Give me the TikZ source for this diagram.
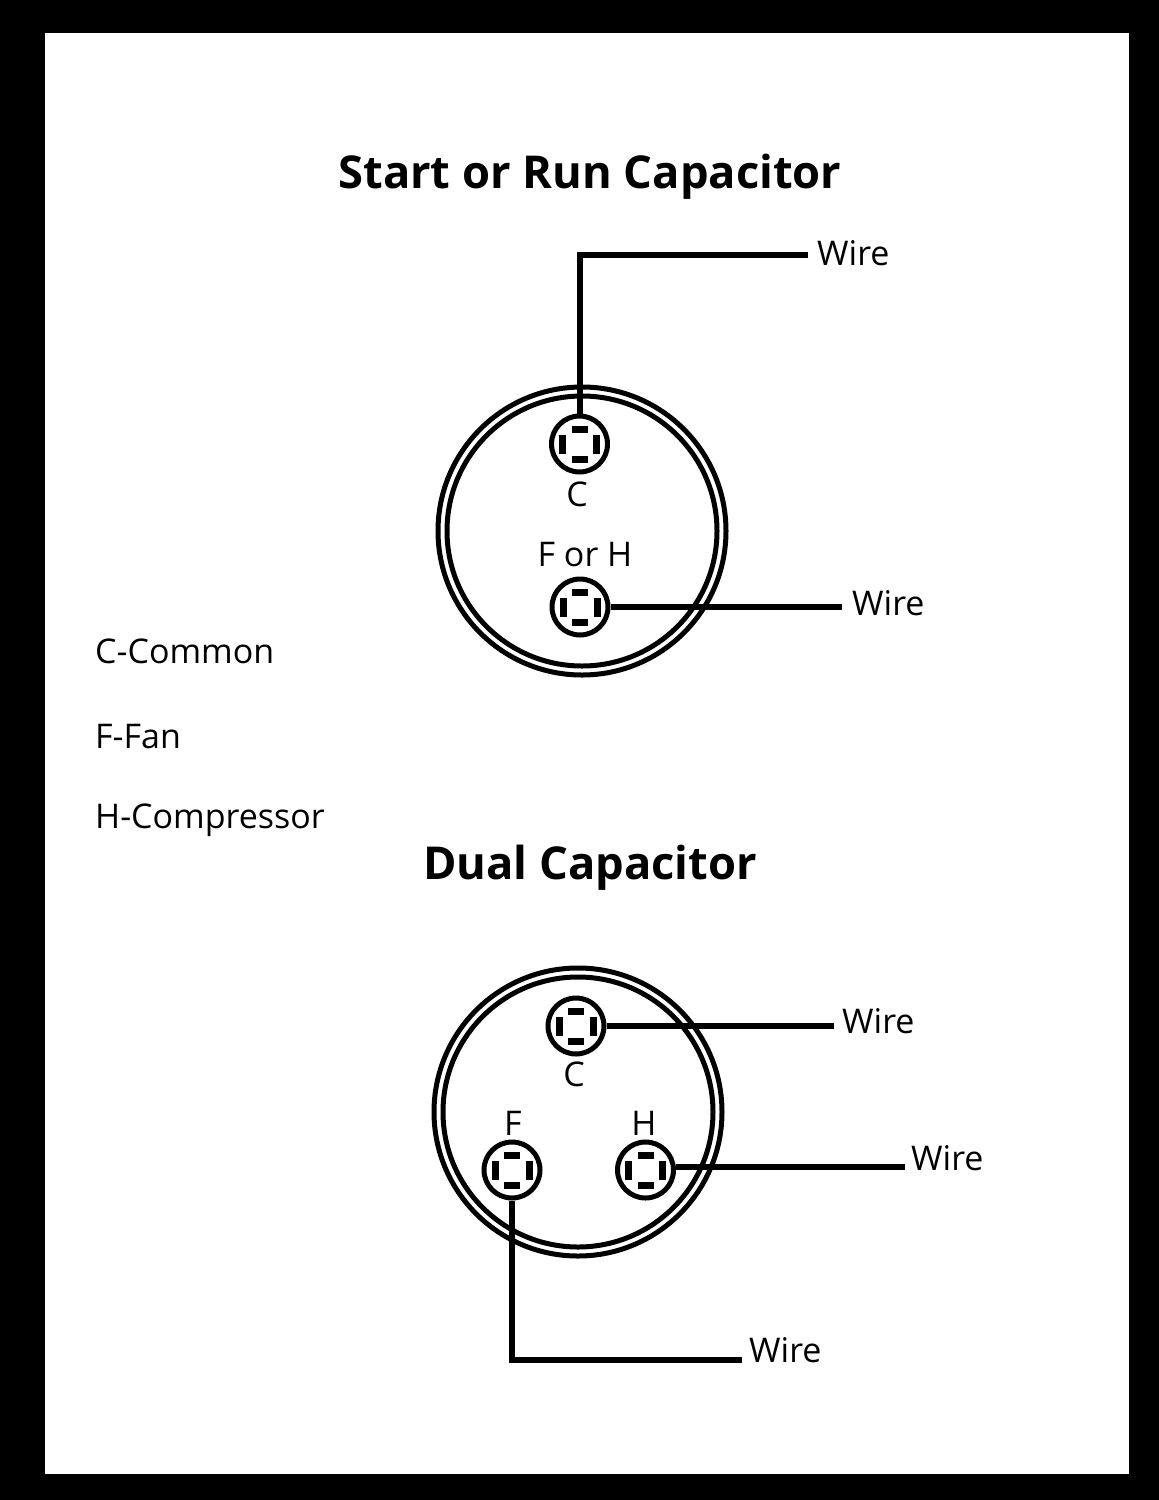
\documentclass[tikz,border=0pt]{standalone}
\usepackage{fontspec}
\setmainfont{Open Sans}
\usetikzlibrary{positioning}
\tikzset{
	title/.style={inner sep=0pt,font=\fontsize{45.3}{50}\selectfont\bfseries},
	lbl/.style={inner sep=0pt,font=\fontsize{34}{40}\selectfont},
	legend/.style={lbl,anchor=west},
	rim/.style={circle,draw,line width=5pt,inner sep=0pt},
	term/.style={circle,draw,fill=white,line width=5pt,minimum size=56pt,inner sep=0pt},
	tabh/.style={fill,minimum width=16pt,minimum height=7pt,inner sep=0pt},
	tabv/.style={fill,minimum width=7pt,minimum height=19pt,inner sep=0pt},
	wire/.style={line width=6pt}
}
\begin{document}
\begin{tikzpicture}[x=1pt,y=-1pt]
	% frame
	\fill (0,0) rectangle (1159,1500);
	\fill[white] (45,33) rectangle (1129,1474);
	\useasboundingbox (0,0) rectangle (1159,1500);

	\node (title0)		at (590,177) [title] {Start or Run Capacitor};
	\node (title1)		at (590,868) [title] {Dual Capacitor};

	\node (legendC)		at (95,651) [legend] {C-Common};
	\node (legendF)		at (95,737) [legend] {F-Fan};
	\node (legendH)		at (95,820) [legend] {H-Compressor};

	% capacitor cans
	\node (can0o)		at (582,531) [rim,minimum size=288pt] {};
	\node (can0i)		at (582,531) [rim,minimum size=270pt] {};
	\node (can1o)		at (578,1112) [rim,minimum size=288pt] {};
	\node (can1i)		at (578,1112) [rim,minimum size=270pt] {};

	% wire ends and their labels
	\coordinate (end0)	at (808,255);
	\coordinate (end1)	at (842,607);
	\coordinate (end2)	at (834,1026);
	\coordinate (end3)	at (905,1167);
	\coordinate (end4)	at (742,1360);
	\node (wire0)		at (817,253) [lbl,anchor=west] {Wire};
	\node (wire1)		at (852,603) [lbl,anchor=west] {Wire};
	\node (wire2)		at (842,1021) [lbl,anchor=west] {Wire};
	\node (wire3)		at (911,1158) [lbl,anchor=west] {Wire};
	\node (wire4)		at (749,1350) [lbl,anchor=west] {Wire};

	\node (term0)		at (579.5,444) [term] {};
	\node (term1)		at (580,607) [term] {};
	\node (term2)		at (576,1026) [term] {};
	\node (term3)		at (512,1170) [term] {};
	\node (term4)		at (645.5,1170) [term] {};

	\foreach \t in {term0,term1,term2,term3,term4} {
		\path (\t) ++(0,-15) node (\t n) [tabh] {};
		\path (\t) ++(0,15) node (\t s) [tabh] {};
		\path (\t) ++(-17,0) node (\t w) [tabv] {};
		\path (\t) ++(17,0) node (\t e) [tabv] {};
	}

	\node (lab0)		at (577,494) [lbl] {C};
	\node (lab1)		at (585,555) [lbl] {F or H};
	\node (lab2)		at (574,1074) [lbl] {C};
	\node (lab3)		at (513,1123) [lbl] {F};
	\node (lab4)		at (644,1123) [lbl] {H};

	\draw[wire] (term0.north) |- (end0);
	\draw[wire] (term1.east) -- (end1);
	\draw[wire] (term2.east) -- (end2);
	\draw[wire] (term4.east) ++(0,-3) -- (end3);
	\draw[wire] (term3.south) |- (end4);
\end{tikzpicture}
\end{document}
